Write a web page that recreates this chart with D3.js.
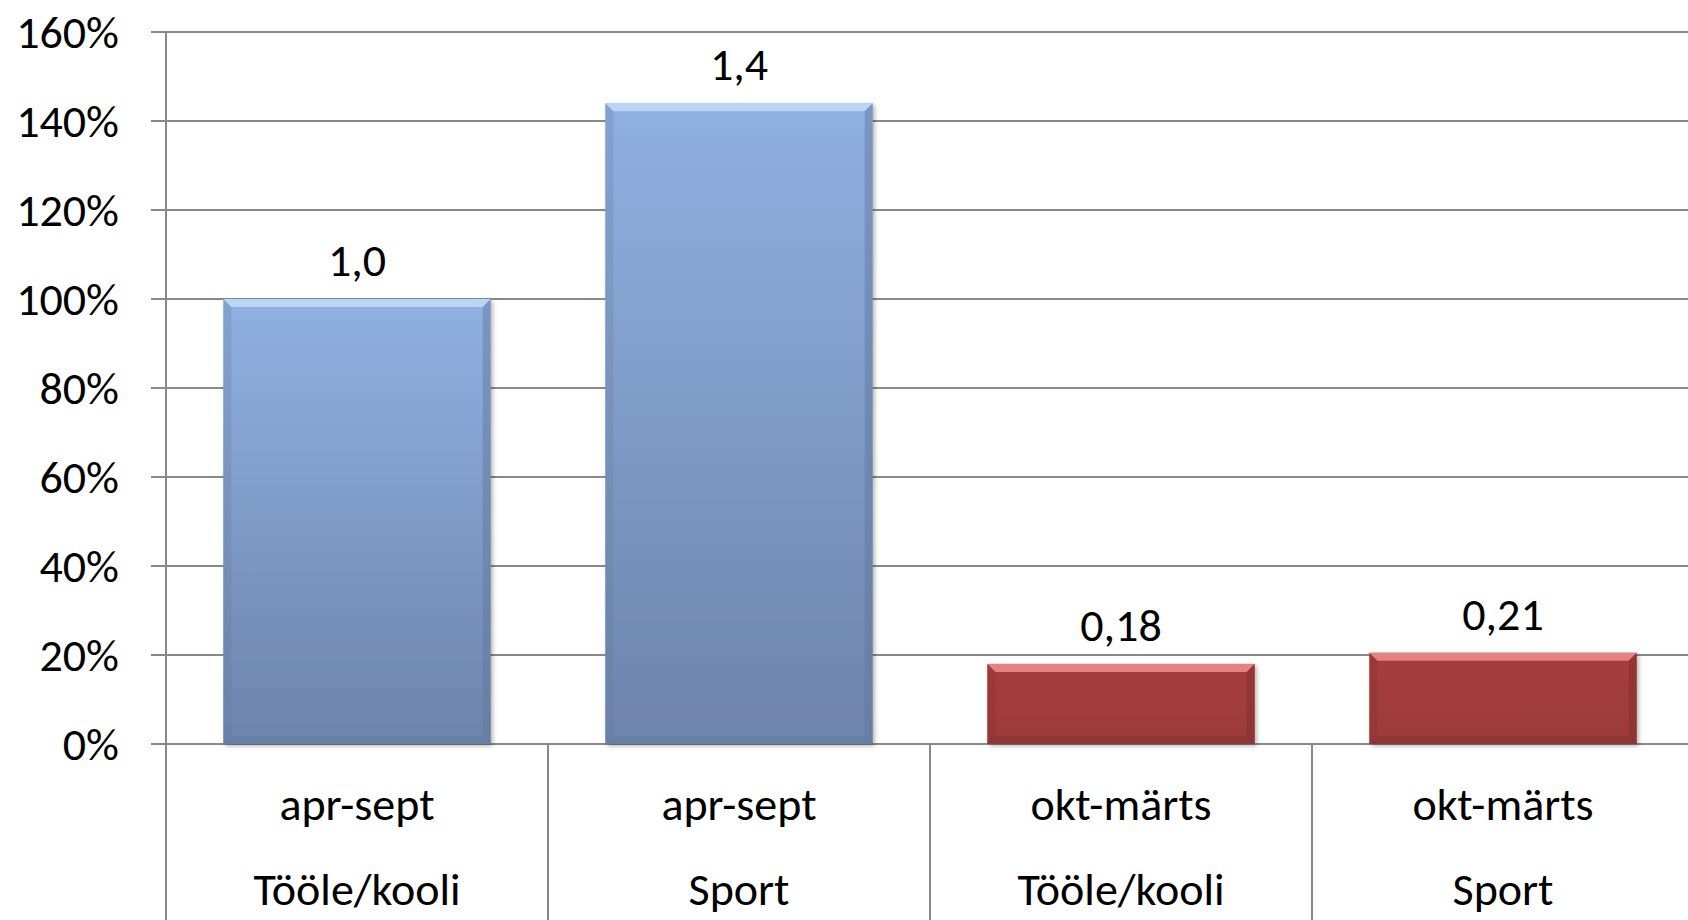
<!DOCTYPE html>
<html>
<head>
<meta charset="utf-8">
<script src="https://cdn.jsdelivr.net/npm/d3@7"></script>
<style>
  body { margin: 0; background: #fff; }
  text { font-family: Carlito, Calibri, Lato, "Open Sans", sans-serif; fill: #000; }
</style>
</head>
<body>
<div id="chart"></div>
<script>
// data
const periods = ["apr-sept", "apr-sept", "okt-märts", "okt-märts"];
const purposes = ["Tööle/kooli", "Sport", "Tööle/kooli", "Sport"];
const values = [1.0, 1.44, 0.18, 0.205];
const valueLabels = ["1,0", "1,4", "0,18", "0,21"];
const seasons = ["summer", "summer", "winter", "winter"];
const yTicks = [0, 0.2, 0.4, 0.6, 0.8, 1.0, 1.2, 1.4, 1.6];

var width = 1688,
    height = 920;
var margin = {top: 32, left: 166, bottom: 176};
var fontSize = "46px";

var svg = d3.select("#chart").append("svg")
  .attr("width", width)
  .attr("height", height);

const x = d3.scaleBand()
  .domain(d3.range(values.length))
  .range([margin.left, margin.left + 4 * 382])
  .paddingInner(0.3)
  .paddingOuter(0.15);

const y = d3.scaleLinear()
  .domain([0, 1.6])
  .range([height - margin.bottom, margin.top]);

const colors = {
  summer: {top: "#90b0e2", bottom: "#6d84ac", light: "#c4dcf8", dark: "#5f769c"},
  winter: {top: "#a63e3e", bottom: "#9c3a3a", light: "#ec8e8e", dark: "#7e2c2c"}
};

var defs = svg.append("defs");
Object.keys(colors).forEach(k => {
  var c = colors[k];
  var g = defs.append("linearGradient").attr("id", "grad-" + k)
    .attr("x1", 0).attr("y1", 0).attr("x2", 0).attr("y2", 1);
  g.append("stop").attr("offset", "0%").attr("stop-color", c.top);
  g.append("stop").attr("offset", "100%").attr("stop-color", c.bottom);
});
defs.append("filter").attr("id", "shadow")
  .attr("x", "-5%").attr("y", "-5%").attr("width", "115%").attr("height", "115%")
  .append("feDropShadow")
    .attr("dx", 2).attr("dy", 2).attr("stdDeviation", 2)
    .attr("flood-color", "#000").attr("flood-opacity", 0.3);

const gridColor = "#898989";

// gridlines + y ticks
svg.append("g")
  .selectAll("line")
  .data(yTicks)
  .join("line")
    .attr("x1", margin.left - 15)
    .attr("x2", width)
    .attr("y1", d => y(d))
    .attr("y2", d => y(d))
    .attr("stroke", gridColor)
    .attr("stroke-width", 2);

svg.append("g")
  .selectAll("text")
  .data(yTicks)
  .join("text")
    .attr("x", 119)
    .attr("y", d => y(d))
    .attr("dy", "0.35em")
    .attr("text-anchor", "end")
    .style("font-size", fontSize)
    .text(d => Math.round(d * 100) + "%");

// y axis line
svg.append("line")
  .attr("x1", margin.left).attr("x2", margin.left)
  .attr("y1", y(1.6)).attr("y2", height)
  .attr("stroke", gridColor).attr("stroke-width", 2);

// category separators
var step = x.step();
svg.append("g")
  .selectAll("line")
  .data(d3.range(1, values.length + 1))
  .join("line")
    .attr("x1", i => margin.left + i * step)
    .attr("x2", i => margin.left + i * step)
    .attr("y1", y(0))
    .attr("y2", height)
    .attr("stroke", gridColor)
    .attr("stroke-width", 2);

// bars
var bev = 8;
var bars = svg.append("g")
  .selectAll("g")
  .data(values.map((v, i) => ({v: v, i: i, s: seasons[i]})))
  .join("g");

bars.append("rect")
  .attr("x", d => x(d.i))
  .attr("y", d => y(d.v))
  .attr("width", x.bandwidth())
  .attr("height", d => y(0) - y(d.v))
  .attr("fill", d => "url(#grad-" + d.s + ")")
  .attr("filter", "url(#shadow)");

// top bevel
bars.append("path")
  .attr("d", d => {
    var x0 = x(d.i), x1 = x0 + x.bandwidth(), y0 = y(d.v);
    return `M${x0},${y0}L${x1},${y0}L${x1 - bev},${y0 + bev}L${x0 + bev},${y0 + bev}Z`;
  })
  .attr("fill", d => colors[d.s].light)
  .attr("opacity", 0.85);

// side bevels
bars.append("path")
  .attr("d", d => {
    var x0 = x(d.i), y0 = y(d.v), y1 = y(0);
    return `M${x0},${y0}L${x0 + bev},${y0 + bev}L${x0 + bev},${y1 - bev}L${x0},${y1}Z`;
  })
  .attr("fill", d => colors[d.s].dark)
  .attr("opacity", 0.25);

bars.append("path")
  .attr("d", d => {
    var x1 = x(d.i) + x.bandwidth(), y0 = y(d.v), y1 = y(0);
    return `M${x1},${y0}L${x1 - bev},${y0 + bev}L${x1 - bev},${y1 - bev}L${x1},${y1}Z`;
  })
  .attr("fill", d => colors[d.s].dark)
  .attr("opacity", 0.45);

bars.append("path")
  .attr("d", d => {
    var x0 = x(d.i), x1 = x0 + x.bandwidth(), y1 = y(0);
    return `M${x0},${y1}L${x0 + bev},${y1 - bev}L${x1 - bev},${y1 - bev}L${x1},${y1}Z`;
  })
  .attr("fill", d => colors[d.s].dark)
  .attr("opacity", 0.4);

// value labels
bars.append("text")
  .attr("x", d => x(d.i) + x.bandwidth() / 2)
  .attr("y", d => y(d.v) - 23)
  .attr("text-anchor", "middle")
  .style("font-size", fontSize)
  .text(d => valueLabels[d.i]);

// category labels
var cats = svg.append("g")
  .selectAll("g")
  .data(d3.range(values.length))
  .join("g")
    .attr("transform", i => "translate(" + (x(i) + x.bandwidth() / 2) + ",0)");

cats.append("text")
  .attr("y", 820)
  .attr("text-anchor", "middle")
  .style("font-size", fontSize)
  .text(i => periods[i]);

cats.append("text")
  .attr("y", 905)
  .attr("text-anchor", "middle")
  .style("font-size", fontSize)
  .text(i => purposes[i]);
</script>
</body>
</html>
